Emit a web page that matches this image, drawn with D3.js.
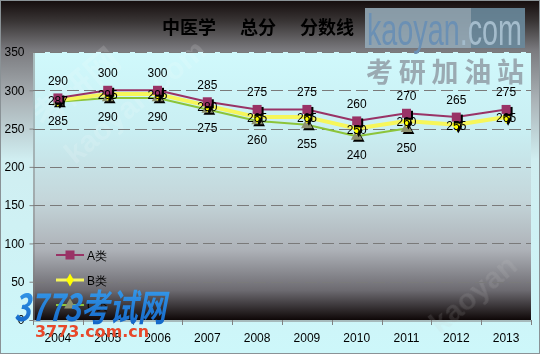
<!DOCTYPE html>
<html>
<head>
<meta charset="utf-8">
<script src="https://cdn.jsdelivr.net/npm/d3@7"></script>
<style>
  html, body { margin: 0; padding: 0; background: #fff; }
  svg { display: block; }
  text { font-family: "Liberation Sans", Arial, sans-serif; }
</style>
</head>
<body>
<div id="chart"></div>
<script>
// chart data
var years = ['2004', '2005', '2006', '2007', '2008', '2009', '2010', '2011', '2012', '2013'];
var seriesA = [290, 300, 300, 285, 275, 275, 260, 270, 265, 275];
var seriesB = [287, 295, 295, 280, 265, 265, 250, 260, 255, 265];
var seriesC = [285, 290, 290, 275, 260, 255, 240, 250];
var yTicks = [0, 50, 100, 150, 200, 250, 300, 350];
var seriesNames = ['A类', 'B类', 'C类'];

(function () {
  'use strict';

  var W = 540, H = 355;
  var plot = { left: 33, right: 531, top: 52, bottom: 320 };

  var svg = d3.select('#chart').append('svg').attr('width', W).attr('height', H);
  var defs = svg.append('defs');

  var outerGrad = defs.append('linearGradient').attr('id', 'outerBg')
    .attr('x1', 0).attr('y1', 0).attr('x2', 0).attr('y2', 1);
  [[0, '#150d0d'], [0.06, '#3a3636'], [0.14, '#7a7a7e'], [0.28, '#aab2b6'],
   [0.45, '#d0eef1'], [1, '#cdf7fa']].forEach(function (s) {
    outerGrad.append('stop').attr('offset', s[0]).attr('stop-color', s[1]);
  });

  var plotGrad = defs.append('linearGradient').attr('id', 'plotBg')
    .attr('x1', 0).attr('y1', 0).attr('x2', 0).attr('y2', 1);
  [[0, '#d0f9fc'], [0.3, '#c9eef2'], [0.55, '#c4d6da'], [0.74, '#adb1b7'],
   [0.89, '#6c6a70'], [1, '#0e0707']].forEach(function (s) {
    plotGrad.append('stop').attr('offset', s[0]).attr('stop-color', s[1]);
  });

  var blueGrad = defs.append('linearGradient').attr('id', 'blueWm')
    .attr('x1', 0).attr('y1', 0).attr('x2', 0).attr('y2', 1);
  blueGrad.append('stop').attr('offset', 0).attr('stop-color', '#40a8f4');
  blueGrad.append('stop').attr('offset', 1).attr('stop-color', '#0c5cc0');

  // backgrounds
  svg.append('rect').attr('x', 0.5).attr('y', 0.5).attr('width', W - 1).attr('height', 353)
    .attr('fill', 'url(#outerBg)').attr('stroke', '#8a9296');
  svg.append('rect').attr('x', plot.left).attr('y', plot.top)
    .attr('width', plot.right - plot.left).attr('height', plot.bottom - plot.top)
    .attr('fill', 'url(#plotBg)');

  var x = d3.scaleBand().domain(years).range([plot.left, plot.right]).padding(0);
  var y = d3.scaleLinear().domain([0, 350]).range([plot.bottom, plot.top]);
  var cx = function (i) { return x(years[i]) + x.bandwidth() / 2; };

  // faint diagonal watermarks
  var faint = svg.append('g').attr('fill', '#ffffff').attr('opacity', 0.14)
    .style('font-weight', 'bold');
  faint.append('text').attr('transform', 'translate(45,130) rotate(-40)')
    .style('font-family', '"Noto Sans CJK SC"').style('font-size', '34px').text('考研网');
  faint.append('text').attr('transform', 'translate(75,165) rotate(-40)')
    .style('font-size', '30px').text('kaoyan.com');
  faint.append('text').attr('transform', 'translate(440,335) rotate(-40)')
    .attr('fill', '#c8c8c8').style('font-size', '30px').text('kaoyan');

  // gridlines
  svg.append('g')
    .selectAll('line')
    .data(yTicks.filter(function (d) { return d > 0; }))
    .enter().append('line')
    .attr('x1', plot.left).attr('x2', plot.right)
    .attr('y1', function (d) { return Math.round(y(d)) + 0.5; })
    .attr('y2', function (d) { return Math.round(y(d)) + 0.5; })
    .attr('stroke', '#7a7a7a').attr('stroke-width', 1)
    .attr('stroke-dasharray', '12,5');

  // axes
  var yAxis = svg.append('g').attr('transform', 'translate(' + (plot.left + 0.5) + ',0)')
    .call(d3.axisLeft(y).tickValues(yTicks).tickSize(4).tickPadding(5));
  var xAxis = svg.append('g').attr('transform', 'translate(0,' + (plot.bottom + 0.5) + ')')
    .call(d3.axisBottom(x).tickSize(0).tickPadding(13));
  [yAxis, xAxis].forEach(function (ax) {
    ax.select('.domain').attr('stroke', '#808080');
    ax.selectAll('.tick line').attr('stroke', '#808080');
    ax.selectAll('text').attr('fill', '#000').style('font-size', '12px')
      .style('font-family', '"Liberation Sans", Arial, sans-serif');
  });
  // category boundary ticks
  svg.append('g').selectAll('line')
    .data(years.concat(['end']))
    .enter().append('line')
    .attr('x1', function (d, i) { return Math.round(plot.left + i * x.bandwidth()) + 0.5; })
    .attr('x2', function (d, i) { return Math.round(plot.left + i * x.bandwidth()) + 0.5; })
    .attr('y1', plot.bottom).attr('y2', plot.bottom + 5)
    .attr('stroke', '#808080');

  // title
  var title = svg.append('text').attr('y', 34).attr('fill', '#000')
    .style('font-family', '"Noto Sans CJK SC", sans-serif').style('font-size', '18px')
    .style('font-weight', 'bold');
  title.append('tspan').attr('x', 162).text('中医学');
  title.append('tspan').attr('x', 240).text('总分');
  title.append('tspan').attr('x', 300).text('分数线');

  // series
  var series = [
    { name: seriesNames[0], values: seriesA, color: '#993366', width: 2, marker: 'square', fill: '#993366', lab: -13 },
    { name: seriesNames[1], values: seriesB, color: '#f6f65a', width: 4, marker: 'diamond', fill: '#ffff00', lab: 5 },
    { name: seriesNames[2], values: seriesC, color: '#8cc43a', width: 2, marker: 'triangle', fill: '#8e9270', lab: 23 }
  ];
  var symbolType = { square: d3.symbolSquare, diamond: d3.symbolDiamond, triangle: d3.symbolTriangle };
  var symbolSize = { square: 81, diamond: 50, triangle: 60 };

  var line = d3.line()
    .x(function (d, i) { return cx(i); })
    .y(function (d) { return y(d); });

  // draw C first, then B, then A on top
  series.slice().reverse().forEach(function (s) {
    svg.append('path').datum(s.values)
      .attr('d', line).attr('fill', 'none')
      .attr('stroke', s.color).attr('stroke-width', s.width)
      .attr('stroke-linejoin', 'round');
  });

  series.slice().reverse().forEach(function (s) {
    var sym = d3.symbol().type(symbolType[s.marker]).size(symbolSize[s.marker]);
    var g = svg.append('g');
    g.selectAll('.shadow').data(s.values).enter().append('path')
      .attr('d', sym)
      .attr('transform', function (d, i) { return 'translate(' + (cx(i) + 2) + ',' + (y(d) + 2) + ')'; })
      .attr('fill', '#000');
    g.selectAll('.mk').data(s.values).enter().append('path')
      .attr('d', sym)
      .attr('transform', function (d, i) { return 'translate(' + cx(i) + ',' + y(d) + ')'; })
      .attr('fill', s.fill);
  });

  // data labels
  series.forEach(function (s) {
    svg.append('g').selectAll('text').data(s.values).enter().append('text')
      .attr('x', function (d, i) { return cx(i); })
      .attr('y', function (d) { return y(d) + s.lab; })
      .attr('text-anchor', 'middle')
      .attr('fill', '#000')
      .style('font-size', '12px')
      .text(function (d) { return d; });
  });

  // legend
  var legend = svg.append('g');
  series.forEach(function (s, i) {
    var ly = 255 + i * 25;
    legend.append('line').attr('x1', 56).attr('x2', 84).attr('y1', ly).attr('y2', ly)
      .attr('stroke', s.color).attr('stroke-width', s.width === 4 ? 3 : 2);
    legend.append('path')
      .attr('d', d3.symbol().type(symbolType[s.marker]).size(symbolSize[s.marker])())
      .attr('transform', 'translate(70,' + ly + ')')
      .attr('fill', s.fill);
    legend.append('text').attr('x', 87).attr('y', ly + 5).attr('fill', '#000')
      .style('font-size', '12px').text(s.name);
  });

  // site watermarks
  svg.append('rect').attr('x', 365).attr('y', 8).attr('width', 106).attr('height', 40)
    .attr('fill', '#94a8b6').attr('opacity', 0.9);
  svg.append('rect').attr('x', 471).attr('y', 8).attr('width', 54).attr('height', 40)
    .attr('fill', '#6a8a9c').attr('opacity', 0.9);
  var kao = svg.append('text').attr('x', 367).attr('y', 45)
    .attr('textLength', 155).attr('lengthAdjust', 'spacingAndGlyphs')
    .style('font-size', '44px');
  kao.append('tspan').attr('fill', '#6b90b4').text('kaoyan');
  kao.append('tspan').attr('fill', '#a4bccc').text('.com');
  svg.append('text').attr('x', 366).attr('y', 82)
    .attr('textLength', 158).attr('lengthAdjust', 'spacing')
    .attr('fill', '#9aaab2')
    .style('font-family', '"Noto Sans CJK SC", sans-serif').style('font-weight', 'bold')
    .style('font-size', '27px').text('考研加油站');

  svg.append('text').attr('x', 14).attr('y', 321)
    .attr('textLength', 152).attr('lengthAdjust', 'spacingAndGlyphs')
    .attr('fill', 'url(#blueWm)')
    .style('font-family', '"Noto Sans CJK SC", sans-serif').style('font-weight', 'bold')
    .style('font-style', 'italic').style('font-size', '37px').text('3773考试网');
  svg.append('text').attr('x', 35).attr('y', 337)
    .attr('textLength', 114).attr('lengthAdjust', 'spacingAndGlyphs')
    .attr('fill', '#e8482a')
    .style('font-family', '"DejaVu Sans", sans-serif').style('font-weight', 'bold')
    .style('font-size', '16px').text('3773.com.cn');
})();
</script>
</body>
</html>
